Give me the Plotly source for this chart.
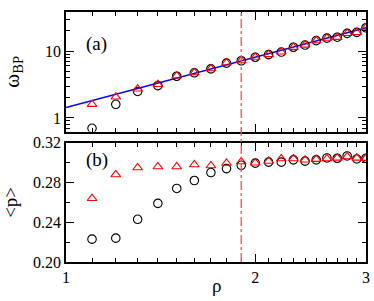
import plotly.graph_objects as go

rho = [1.1, 1.2, 1.3, 1.4, 1.5, 1.6, 1.7, 1.8, 1.9, 2.0,
       2.1, 2.2, 2.3, 2.4, 2.5, 2.6, 2.7, 2.8, 2.9, 3.0]
omega_circ = [0.70, 1.60, 2.49, 3.04, 4.20, 4.73, 5.41, 6.61, 7.16, 8.08,
              8.84, 9.67, 11.4, 12.3, 14.3, 15.6, 16.1, 18.4, 19.0, 22.3]
omega_tri = [1.60, 2.06, 2.72, 3.17, 4.25, 4.75, 5.45, 6.65, 7.20, 8.10,
             8.88, 9.70, 11.4, 12.3, 14.3, 15.6, 16.1, 18.4, 19.0, 22.3]
p_circ = [0.223, 0.224, 0.243, 0.259, 0.274, 0.282, 0.290, 0.294, 0.2973, 0.2995,
          0.3005, 0.3005, 0.3028, 0.3015, 0.3028, 0.3047, 0.3044, 0.3067, 0.3037, 0.3044]
p_tri = [0.264, 0.288, 0.295, 0.296, 0.296, 0.298, 0.297, 0.2995, 0.301, 0.2998,
         0.3015, 0.304, 0.304, 0.3028, 0.3034, 0.304, 0.3047, 0.306, 0.3047, 0.3044]
fit_rho = [1.0, 3.0]
fit_omega = [1.43, 22.3]
rho_c = 1.9

x_major = [1, 2, 3]
x_minor = [1.1, 1.2, 1.3, 1.4, 1.5, 1.6, 1.7, 1.8, 1.9, 2.1, 2.2, 2.3, 2.4, 2.5, 2.6, 2.7, 2.8, 2.9]
y2_major = [1, 10]
y2_minor = [0.7, 0.8, 0.9, 2, 3, 4, 5, 6, 7, 8, 9, 20, 30]
p_major = [0.20, 0.24, 0.28, 0.32]
p_minor = [0.22, 0.26, 0.30]

FONT = "Liberation Serif"
circ_m = dict(symbol="circle-open", size=8.5, color="black", line=dict(width=1.1, color="black"))
tri_m = dict(symbol="triangle-up-open", size=8.5, color="red", line=dict(width=1.1, color="red"))

fig = go.Figure()
# top panel
fig.add_trace(go.Scatter(x=fit_rho, y=fit_omega, mode="lines", line=dict(color="blue", width=1.5),
                         xaxis="x2", yaxis="y2", showlegend=False))
fig.add_trace(go.Scatter(x=rho, y=omega_circ, mode="markers", marker=circ_m,
                         xaxis="x2", yaxis="y2", showlegend=False))
fig.add_trace(go.Scatter(x=rho, y=omega_tri, mode="markers", marker=tri_m,
                         xaxis="x2", yaxis="y2", showlegend=False))
# bottom panel
fig.add_trace(go.Scatter(x=rho, y=p_circ, mode="markers", marker=circ_m,
                         xaxis="x", yaxis="y", showlegend=False))
fig.add_trace(go.Scatter(x=rho, y=p_tri, mode="markers", marker=tri_m,
                         xaxis="x", yaxis="y", showlegend=False))

common = dict(showline=True, linecolor="black", linewidth=1.5, mirror="allticks",
              ticks="inside", tickcolor="black", tickwidth=1.2, showgrid=False, zeroline=False,
              tickfont=dict(family=FONT, size=16, color="black"))

fig.update_layout(
    width=374, height=301,
    margin=dict(l=66, r=7, t=4, b=39),
    paper_bgcolor="white", plot_bgcolor="white",
    xaxis=dict(type="log", range=[0, 0.47712], domain=[0, 1], anchor="y",
               tickmode="array", tickvals=x_major, ticktext=["1", "2", "3"], ticklen=8,
               minor=dict(tickmode="array", tickvals=x_minor, ticks="inside", ticklen=4,
                          tickcolor="black", tickwidth=1.2, showgrid=False),
               **common),
    xaxis2=dict(type="log", range=[0, 0.47712], domain=[0, 1], anchor="y2", matches="x",
                tickmode="array", tickvals=x_major, showticklabels=False, ticklen=8,
                minor=dict(tickmode="array", tickvals=x_minor, ticks="inside", ticklen=4,
                           tickcolor="black", tickwidth=1.2, showgrid=False),
                **common),
    yaxis=dict(range=[0.20, 0.32], domain=[0, 0.477], anchor="x",
               tickmode="array", tickvals=p_major, ticktext=["0.20", "0.24", "0.28", "0.32"], ticklen=8,
               minor=dict(tickmode="array", tickvals=p_minor, ticks="inside", ticklen=4,
                          tickcolor="black", tickwidth=1.2, showgrid=False),
               title=dict(text="&lt;p&gt;", font=dict(family=FONT, size=19, color="black"), standoff=10),
               **common),
    yaxis2=dict(type="log", range=[-0.203, 1.584], domain=[0.522, 1], anchor="x2",
                tickmode="array", tickvals=y2_major, ticktext=["1", "10"], ticklen=8,
                minor=dict(tickmode="array", tickvals=y2_minor, ticks="inside", ticklen=4,
                           tickcolor="black", tickwidth=1.2, showgrid=False),
                title=dict(text="ω<sub>BP</sub>", font=dict(family=FONT, size=21, color="black"), standoff=26),
                **common),
    shapes=[dict(type="line", xref="x", yref="paper", x0=rho_c, x1=rho_c, y0=0, y1=1,
                 line=dict(color="rgba(255,80,80,0.9)", width=1.5, dash="dashdot"))],
    annotations=[
        dict(text="(a)", xref="paper", yref="paper", x=0.06, y=0.922, showarrow=False,
             font=dict(family=FONT, size=19, color="black")),
        dict(text="(b)", xref="paper", yref="paper", x=0.06, y=0.407, showarrow=False,
             font=dict(family=FONT, size=19, color="black")),
        dict(text="ρ", xref="paper", yref="paper", x=0.5, y=-0.095, yanchor="middle",
             showarrow=False, font=dict(family=FONT, size=19, color="black")),
    ],
)

fig.write_html("out.html", config={"displayModeBar": False},
               post_script="document.body.style.margin='0';document.body.style.overflow='hidden';")
